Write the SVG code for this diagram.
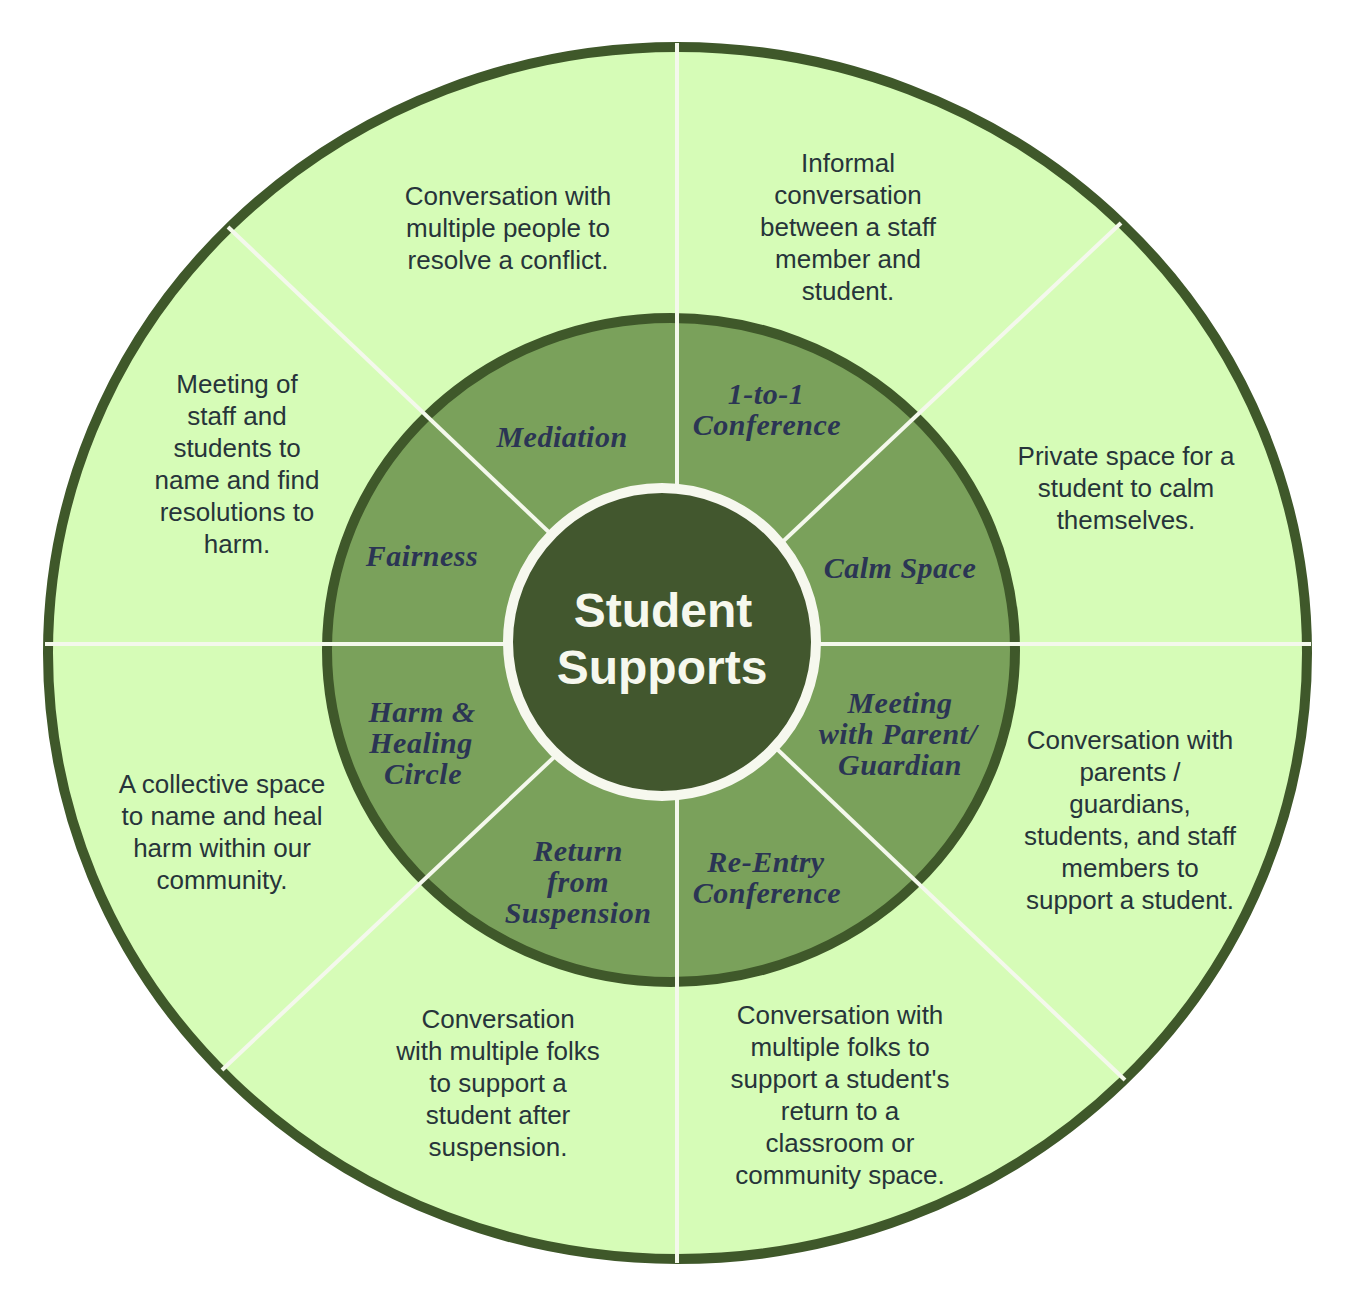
<svg xmlns="http://www.w3.org/2000/svg" width="1355" height="1309" viewBox="0 0 1355 1309">
  <style>
    .desc { font-family: "Liberation Sans", Arial, sans-serif; font-size: 26px; fill: #27343a; text-anchor: middle; }
    .lab { font-family: "Liberation Serif", "Times New Roman", serif; font-size: 30px; font-weight: bold; font-style: italic; fill: #2b3554; text-anchor: middle; letter-spacing: 0.5px; }
    .ctr { font-family: "Liberation Sans", Arial, sans-serif; font-size: 48px; font-weight: bold; fill: #f6f8ee; text-anchor: middle; }
    .div { stroke: #f4f8ec; stroke-width: 4; fill: none; }
  </style>
  <rect width="1355" height="1309" fill="#ffffff"/>
  <g id="rings">
    <ellipse cx="677.5" cy="653" rx="629.5" ry="606" fill="#d6fcb7" stroke="#3f582a" stroke-width="10"/>
    <ellipse cx="671" cy="650" rx="344" ry="332" fill="#7aa15b" stroke="#3f582a" stroke-width="10"/>
  </g>
  <g id="connectors">
    <line class="div" x1="677" y1="43" x2="677" y2="1263"/>
    <line class="div" x1="45" y1="644" x2="1311" y2="644"/>
    <line class="div" x1="228" y1="227" x2="1125" y2="1080"/>
    <line class="div" x1="1121" y1="223" x2="222" y2="1070"/>
  </g>
  <g id="center">
    <circle cx="662" cy="642" r="154" fill="#42572e" stroke="#f6f8ee" stroke-width="10"/>
    <text class="ctr" x="663" y="627">Student</text>
    <text class="ctr" x="662" y="684">Supports</text>
  </g>
  <g id="mediation">
    <text class="lab" x="562" y="447">Mediation</text>
    <text class="desc" x="508" y="205">Conversation with</text>
    <text class="desc" x="508" y="237">multiple people to</text>
    <text class="desc" x="508" y="269">resolve a conflict.</text>
  </g>
  <g id="one-to-one">
    <text class="lab" x="766" y="404">1-to-1</text>
    <text class="lab" x="767" y="435">Conference</text>
    <text class="desc" x="848" y="172">Informal</text>
    <text class="desc" x="848" y="204">conversation</text>
    <text class="desc" x="848" y="236">between a staff</text>
    <text class="desc" x="848" y="268">member and</text>
    <text class="desc" x="848" y="300">student.</text>
  </g>
  <g id="calm-space">
    <text class="lab" x="900" y="578">Calm Space</text>
    <text class="desc" x="1126" y="465">Private space for a</text>
    <text class="desc" x="1126" y="497">student to calm</text>
    <text class="desc" x="1126" y="529">themselves.</text>
  </g>
  <g id="meeting-parent">
    <text class="lab" x="900" y="713">Meeting</text>
    <text class="lab" x="898" y="744">with Parent/</text>
    <text class="lab" x="900" y="775">Guardian</text>
    <text class="desc" x="1130" y="749">Conversation with</text>
    <text class="desc" x="1130" y="781">parents /</text>
    <text class="desc" x="1130" y="813">guardians,</text>
    <text class="desc" x="1130" y="845">students, and staff</text>
    <text class="desc" x="1130" y="877">members to</text>
    <text class="desc" x="1130" y="909">support a student.</text>
  </g>
  <g id="re-entry">
    <text class="lab" x="766" y="872">Re-Entry</text>
    <text class="lab" x="767" y="903">Conference</text>
    <text class="desc" x="840" y="1024">Conversation with</text>
    <text class="desc" x="840" y="1056">multiple folks to</text>
    <text class="desc" x="840" y="1088">support a student's</text>
    <text class="desc" x="840" y="1120">return to a</text>
    <text class="desc" x="840" y="1152">classroom or</text>
    <text class="desc" x="840" y="1184">community space.</text>
  </g>
  <g id="return-suspension">
    <text class="lab" x="578" y="861">Return</text>
    <text class="lab" x="578" y="892">from</text>
    <text class="lab" x="578" y="923">Suspension</text>
    <text class="desc" x="498" y="1028">Conversation</text>
    <text class="desc" x="498" y="1060">with multiple folks</text>
    <text class="desc" x="498" y="1092">to support a</text>
    <text class="desc" x="498" y="1124">student after</text>
    <text class="desc" x="498" y="1156">suspension.</text>
  </g>
  <g id="harm-healing">
    <text class="lab" x="422" y="722">Harm &amp;</text>
    <text class="lab" x="421" y="753">Healing</text>
    <text class="lab" x="423" y="784">Circle</text>
    <text class="desc" x="222" y="793">A collective space</text>
    <text class="desc" x="222" y="825">to name and heal</text>
    <text class="desc" x="222" y="857">harm within our</text>
    <text class="desc" x="222" y="889">community.</text>
  </g>
  <g id="fairness">
    <text class="lab" x="422" y="566">Fairness</text>
    <text class="desc" x="237" y="393">Meeting of</text>
    <text class="desc" x="237" y="425">staff and</text>
    <text class="desc" x="237" y="457">students to</text>
    <text class="desc" x="237" y="489">name and find</text>
    <text class="desc" x="237" y="521">resolutions to</text>
    <text class="desc" x="237" y="553">harm.</text>
  </g>
</svg>
